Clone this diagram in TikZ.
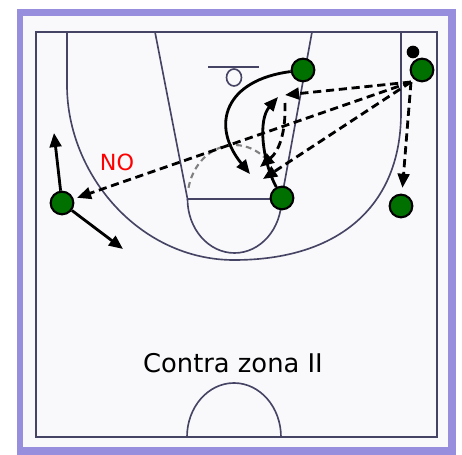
\documentclass[tikz,border=0pt]{standalone}
\usepackage{fontspec}
\setmainfont{DejaVu Sans}
\usepackage{tikz}
\usetikzlibrary{arrows.meta}

\definecolor{framepurple}{RGB}{152,142,222}
\definecolor{courtwhite}{RGB}{249,249,251}
\definecolor{courtline}{RGB}{70,68,100}
\definecolor{playergreen}{RGB}{0,112,0}

\begin{document}
\begin{tikzpicture}[
  x=0.03cm, y=-0.03cm,
  court/.style={draw=courtline, line width=1.4pt},
  player/.style={circle, draw=black, fill=playergreen, line width=1.8pt, minimum size=0.68cm, inner sep=0pt},
  ball/.style={circle, fill=black, minimum size=0.38cm, inner sep=0pt},
  pass/.style={-{Triangle[length=12pt,width=10pt]}, dash pattern=on 7pt off 4pt, line width=2.4pt},
  cut/.style={-{Triangle[length=12pt,width=10pt]}, line width=2.4pt}
]
\useasboundingbox (0,0) rectangle (462,455);

% Frame
\fill[white] (0,0) rectangle (462,455);
\fill[framepurple] (17,9) rectangle (456,455);
\fill[courtwhite] (23,16) rectangle (448,447);

% Court lines
\draw[court] (36,32) rectangle (437,437);
\draw[court] (67,32) -- (67,85) .. controls (67,175) and (140,260) .. (234,260)
  .. controls (340,260) and (401,205) .. (401,113) -- (401,32);
\draw[court] (155,32) -- (187.5,199) -- (281.5,199) -- (312,32);
\draw[court] (187.5,199) arc[start angle=180, end angle=0, x radius=47, y radius=54];
\draw[court, draw=gray, line width=1.8pt, dash pattern=on 5pt off 3.5pt] (188.5,187.8) arc[start angle=192, end angle=314, x radius=47, y radius=54];
\draw[court] (208,67) -- (259,67);
\draw[court] (234,77.5) circle[x radius=7.5, y radius=8.5];
\draw[court] (187,437) arc[start angle=180, end angle=360, x radius=47, y radius=54];

% Players and ball
\node[ball] (ball) at (413,52) {};
\node[player] (p1) at (303,70) {};
\node[player] (p2) at (422,70) {};
\node[player] (p3) at (282,198) {};
\node[player] (p4) at (401,206) {};
\node[player] (p5) at (62,203) {};

% Free ends of the moves
\coordinate (s2) at (411,82);
\coordinate (a) at (285,95);
\coordinate (b) at (263,179);
\coordinate (up5) at (54,133);
\coordinate (dn5) at (123,249);

% Passes from the corner
\draw[pass] (s2) -- (a);
\draw[pass] (s2) -- (p5) [shorten >=3pt];
\draw[pass] (s2) -- (b);
\draw[pass] (s2) -- (p4) [shorten >=5pt];
\draw[pass] (285,103) .. controls (286,135) and (278,152) .. (260,167);

% Cuts
\draw[cut] (p1) .. controls (225,80) and (210,125) .. (250,174);
\draw[cut] (p3) .. controls (262,160) and (258,120) .. (278,97);
\draw[cut] (p5) -- (up5);
\draw[cut] (p5) -- (dn5);

% Labels
\node[text=red, font=\fontsize{19}{22}\selectfont] (no) at (117,162) {NO};
\node[font=\fontsize{22}{26}\selectfont] (title) at (233,363) {Contra zona II};
\end{tikzpicture}
\end{document}
